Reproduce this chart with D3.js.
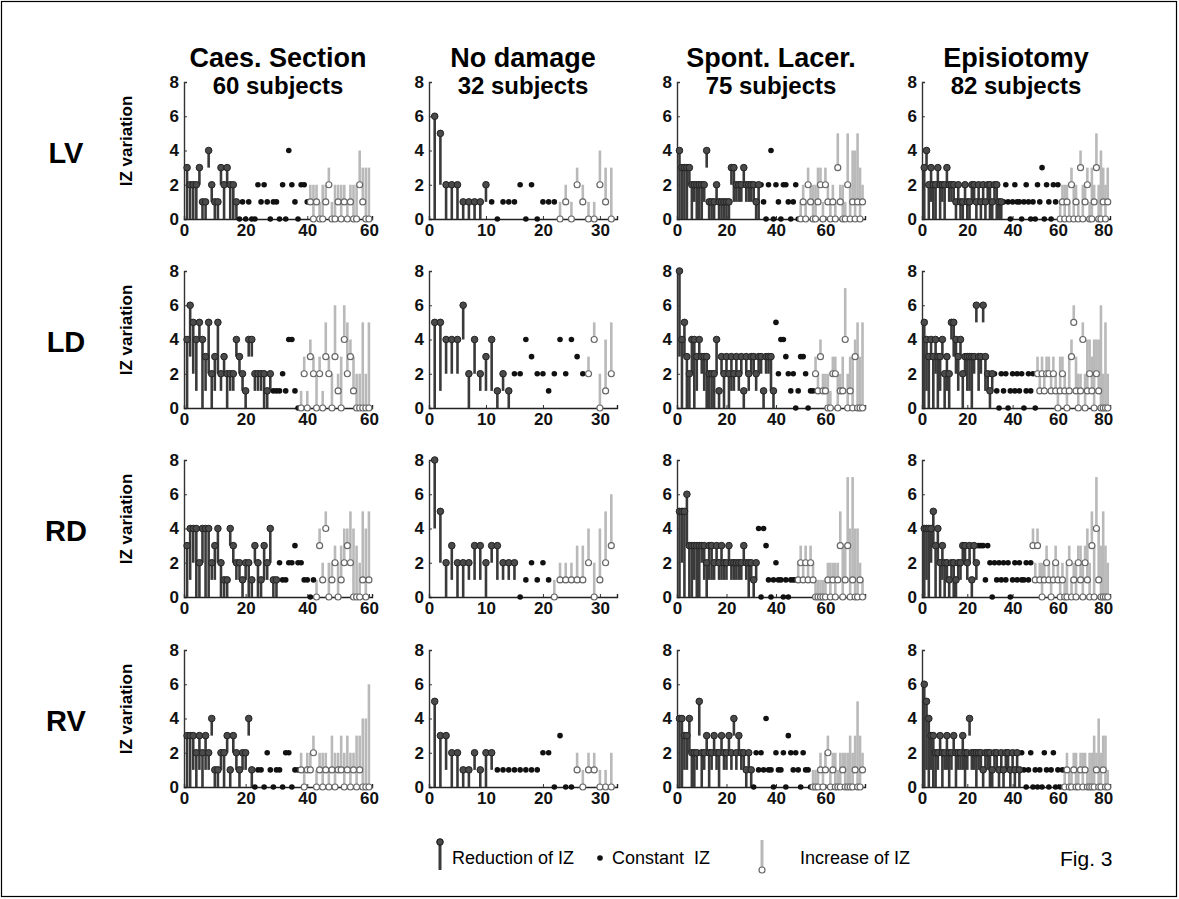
<!DOCTYPE html>
<html>
<head>
<meta charset="utf-8">
<script src="https://cdn.jsdelivr.net/npm/d3@7"></script>
<style>
  body { margin: 0; background: #fff; }
  text { font-family: "Liberation Sans", Arial, sans-serif; white-space: pre; }
</style>
</head>
<body>
<svg id="fig" width="1179" height="899"></svg>
<script>
const groups = ["Caes. Section", "No damage", "Spont. Lacer.", "Episiotomy"];
const subjects = [60, 32, 75, 82];
const regions = ["LV", "LD", "RD", "RV"];
const xTicks = [[0, 20, 40, 60], [0, 10, 20, 30], [0, 20, 40, 60], [0, 20, 40, 60, 80]];
const yTicks = [0, 2, 4, 6, 8];

// each subject: [IZ before, IZ after], sorted reduction / constant / increase
const c = (...v) => v.map((d) => [d, d]);

const lvCaes = [[3,0],[2,0],[2,0],[2,0],[3,2],[1,0],[1,0],[4,3],[2,1],[1,0],[1,0],[3,2],[2,0],[3,2],[2,0],[2,0],[1,0],
  ...c(0,1,0,1,0,0,2,1,2,1,0,1,1,0,2,0,4,2,1,0,2,2,1),
  [1,2],[0,2],[1,2],[0,1],[0,2],[1,2],[2,3],[0,1],[0,2],[1,2],[0,2],[1,2],[0,1],[1,2],[0,2],[0,2],[2,4],[1,3],[0,3],[0,3]];
const lvNoDam = [[6,0],[5,2],[2,0],[2,0],[2,0],[1,0],[1,0],[1,0],[1,0],[2,1],
  ...c(1,0,1,1,1,2,0,2,0,1,1,1),
  [0,1],[1,2],[0,1],[2,3],[1,2],[0,1],[0,1],[2,4],[1,3],[0,3]];
const lvSpont = [[4,0],[3,0],[3,0],[3,0],[3,2],[2,0],[2,1],[2,0],[2,0],[2,0],[2,1],[4,3],[1,0],[1,0],[1,0],[2,1],[1,0],[1,0],[1,0],[1,0],
  [1,0],[3,2],[3,1],[2,1],[2,1],[2,1],[3,2],[2,1],[2,1],[2,1],[2,1],[1,0],[2,0],
  ...c(2,1,0,2,4,0,2,1,0,2,2,1,0,1,2,0),
  [0,1],[1,2],[0,1],[2,3],[1,2],[0,2],[0,2],[1,3],[2,3],[0,1],[2,3],[1,2],[0,1],[1,2],[0,1],[3,5],[1,2],[0,2],[0,1],[2,5],
  [0,2],[1,4],[0,4],[1,5],[0,3],[1,2]];
const lvEpis = [[3,0],[4,3],[2,0],[3,1],[2,0],[2,0],[3,2],[2,0],[2,1],[2,0],[3,2],[2,1],[2,1],[2,1],[1,0],[2,1],[1,0],[1,0],[2,1],[1,0],
  [1,0],[2,1],[2,1],[1,0],[2,1],[1,0],[2,1],[1,0],[2,1],[2,0],[1,0],[2,1],[2,0],[1,0],[1,0],
  ...c(1,2,1,0,1,2,1,1,0,1,2,1,0,1,0,2,1,3,0,2,1,0,2,1,2),
  [0,1],[1,2],[0,2],[1,2],[0,1],[2,3],[0,2],[1,2],[0,1],[3,4],[0,2],[1,2],[2,3],[0,1],[0,3],[1,2],[3,5],[0,2],[0,4],[1,3],
  [0,2],[1,3]];

const ldCaes = [[4,0],[6,3],[5,2],[4,1],[5,4],[4,0],[3,1],[5,2],[2,0],[3,1],[5,2],[2,1],[3,2],[2,0],[2,1],[2,1],[4,3],[3,2],[2,1],[1,0],
  [4,3],[4,3],[2,1],[2,1],[2,1],[2,0],[1,0],[2,1],
  ...c(1,1,1,2,1,4,4,1,0),
  [0,1],[2,3],[0,1],[3,4],[2,3],[0,2],[2,3],[0,1],[3,5],[2,3],[0,2],[3,6],[1,2],[0,3],[4,6],[2,5],[3,4],[1,3],[0,2],[0,2],
  [0,5],[0,2],[0,5]];
const ldNoDam = [[5,0],[5,1],[4,2],[4,2],[4,2],[6,4],[2,0],[4,2],[2,1],[3,1],[4,1],[1,0],[2,1],[1,0],
  ...c(2,2,4,3,2,2,1,2,4,2,4,3,2),
  [2,3],[4,5],[0,2],[1,4],[2,5]];
const ldSpont = [[8,3],[4,0],[5,3],[3,0],[2,0],[4,2],[4,0],[3,1],[4,3],[3,2],[3,1],[3,0],[2,0],[2,0],[2,0],[4,2],[1,0],[3,2],[2,0],[3,2],
  [2,0],[3,1],[2,1],[3,2],[2,1],[3,2],[1,0],[3,2],[2,1],[3,2],[3,2],[2,1],[3,2],[3,2],[1,0],[3,2],[3,2],[3,1],[1,0],
  ...c(5,2,4,4,3,2,1,2,0,1,3,3,2,0,1,1),
  [2,3],[1,2],[3,4],[1,2],[1,2],[0,2],[0,1],[2,3],[2,3],[0,2],[1,2],[1,3],[4,7],[0,2],[1,3],[0,3],[3,4],[0,5],[0,3],[0,5]];
const ldEpis = [[5,0],[4,1],[3,0],[4,3],[3,0],[4,2],[3,0],[3,1],[4,3],[2,0],[3,1],[2,0],[5,4],[5,3],[4,2],[3,1],[4,3],[2,0],[3,2],[3,1],
  [3,1],[3,0],[3,2],[6,5],[3,1],[3,2],[6,5],[3,1],[2,1],[1,0],[2,1],
  ...c(2,1,0,2,1,2,0,1,2,1,2,1,2,0,1,2,1,2,0),
  [2,3],[1,2],[2,3],[1,2],[2,3],[2,3],[1,2],[2,3],[1,2],[0,1],[1,3],[2,3],[1,2],[0,1],[1,3],[3,4],[5,6],[1,3],[0,2],[1,2],
  [4,5],[0,2],[1,4],[2,4],[1,3],[0,4],[2,4],[1,4],[0,6],[0,2],[0,5],[0,2]];

const rdCaes = [[3,0],[4,1],[4,2],[4,0],[2,0],[4,2],[4,0],[4,0],[2,1],[3,1],[4,2],[2,0],[1,0],[1,0],[4,3],[3,2],[2,1],[2,1],[1,0],[2,1],
  [2,0],[1,0],[3,2],[2,0],[1,0],[3,1],[2,1],[4,2],[1,0],[1,0],
  ...c(2,1,1,2,2,3,2,2,1,1,0,1),
  [0,1],[3,4],[1,2],[4,5],[0,2],[1,2],[2,3],[0,2],[1,3],[2,4],[3,4],[2,5],[0,4],[0,3],[0,2],[1,5],[0,4],[1,5]];
const rdNoDam = [[8,4],[5,2],[2,0],[3,1],[2,0],[2,0],[2,1],[3,1],[3,1],[2,0],[3,2],[3,1],[2,1],[2,1],[2,1],
  ...c(0,1,2,1,2,1),
  [0,1],[1,2],[1,2],[1,2],[1,3],[1,3],[2,4],[0,2],[1,4],[2,5],[3,6]];
const rdSpont = [[5,0],[5,2],[5,0],[6,3],[3,0],[3,0],[3,1],[3,0],[3,0],[3,2],[3,1],[2,0],[3,1],[3,1],[2,1],[3,2],[2,1],[3,1],[2,1],[2,1],
  [3,2],[2,1],[2,1],[2,1],[2,1],[2,1],[3,2],[2,1],[2,0],[2,1],[1,0],[2,1],
  ...c(4,0,4,3,1,0,1,2,1,1,0,1,0,1,1,1),
  [1,2],[2,3],[1,2],[2,3],[1,2],[2,3],[1,2],[0,1],[0,1],[0,1],[0,1],[0,1],[1,2],[0,2],[1,2],[0,2],[1,2],[3,5],[0,3],[1,3],
  [3,7],[0,4],[1,7],[0,4],[0,4],[1,2],[0,1]];
const rdEpis = [[4,0],[4,1],[4,0],[4,2],[5,3],[3,0],[4,2],[2,0],[3,1],[2,0],[2,1],[1,0],[2,1],[2,0],[1,0],[2,1],[2,1],[3,2],[3,2],[2,1],
  [3,2],[1,0],[3,2],[2,1],
  ...c(3,3,3,1,3,2,0,2,1,2,1,2,1,2,0,1,2,1,2,1,1,2,1,2),
  [3,4],[1,2],[3,4],[1,2],[0,2],[1,2],[2,3],[1,2],[0,1],[1,2],[2,3],[1,2],[0,1],[1,2],[0,1],[0,2],[2,3],[0,1],[1,2],[0,2],
  [2,3],[1,3],[0,2],[2,3],[1,4],[0,2],[3,5],[0,3],[4,7],[1,4],[0,3],[0,5],[0,3],[0,2]];

const rvCaes = [[3,0],[3,0],[3,1],[2,0],[3,1],[2,0],[3,1],[2,1],[4,3],[1,0],[1,0],[2,1],[2,0],[3,2],[1,0],[3,2],[2,1],[1,0],[2,1],[2,1],
  [4,3],[1,0],
  ...c(0,1,1,0,2,1,0,1,1,0,2,2,0,1,1),
  [1,2],[0,1],[1,2],[1,2],[2,3],[0,1],[1,2],[0,2],[1,2],[0,1],[1,3],[0,2],[1,2],[1,3],[0,2],[1,3],[0,2],[1,2],[0,3],[1,3],
  [0,4],[0,4],[0,6]];
const rvNoDam = [[5,0],[3,0],[3,1],[2,0],[2,0],[1,0],[1,0],[2,1],[1,0],[2,0],[2,1],
  ...c(1,1,1,1,1,1,1,1,2,2,0,3,0,0),
  [1,2],[0,1],[1,2],[1,2],[0,1],[0,1],[0,2]];
const rvSpont = [[4,0],[4,0],[3,1],[3,1],[4,2],[2,0],[2,0],[2,1],[5,3],[2,0],[2,1],[3,2],[2,0],[2,1],[3,2],[2,1],[2,0],[3,2],[2,1],[2,1],
  [3,2],[2,1],[4,3],[2,1],[3,2],[2,1],[2,1],[1,0],[2,1],[1,0],
  ...c(0,2,1,2,1,4,1,1,0,2,1,1,2,0,3,2,1,2,1,0,2,1,1,0),
  [0,1],[0,1],[0,1],[1,2],[0,1],[1,2],[2,3],[0,1],[1,2],[0,2],[0,1],[0,2],[1,2],[0,2],[0,2],[0,3],[0,2],[1,3],[0,5],[0,3],
  [1,2]];
const rvEpis = [[6,0],[5,1],[4,0],[3,1],[3,0],[2,0],[2,1],[3,2],[2,0],[2,1],[3,1],[2,0],[2,1],[3,2],[2,0],[2,1],[2,1],[3,1],[2,0],[2,1],
  [4,3],[2,1],[2,1],[2,0],[2,1],[2,1],[1,0],[2,1],[2,1],[2,0],[1,0],[2,1],[2,1],[1,0],[2,1],[1,0],[2,1],[2,1],[1,0],[2,1],
  [1,0],[2,1],[1,0],
  ...c(2,1,0,1,2,0,1,0,1,0,2,1,0,1,2,0,1,0,1),
  [0,1],[1,2],[0,1],[0,1],[1,2],[0,2],[0,1],[1,2],[0,2],[1,2],[0,1],[0,2],[0,2],[0,3],[1,2],[0,4],[0,2],[1,3],[0,3],[0,1]];

const panels = [
  [lvCaes, lvNoDam, lvSpont, lvEpis],
  [ldCaes, ldNoDam, ldSpont, ldEpis],
  [rdCaes, rdNoDam, rdSpont, rdEpis],
  [rvCaes, rvNoDam, rvSpont, rvEpis],
];

const svg = d3.select("#fig");
const colX = [184, 429, 677, 922];
const rowY = [219, 408, 597, 787];
const W = 188, H = 137;
const dark = "#3a3a3a", light = "#b9b9b9";

svg.append("rect").attr("x", 1.5).attr("y", 1.5).attr("width", 1175).attr("height", 895)
  .attr("fill", "none").attr("stroke", "#000").attr("stroke-width", 1.2);

groups.forEach((name, j) => {
  const cx = colX[j] + W / 2;
  svg.append("text").attr("x", cx).attr("y", 67).attr("text-anchor", "middle")
    .attr("font-size", 27).attr("font-weight", "bold").text(name);
  svg.append("text").attr("x", cx).attr("y", 94).attr("text-anchor", "middle")
    .attr("font-size", 24).attr("font-weight", "bold").text(`${subjects[j]} subjects`);
});

regions.forEach((name, r) => {
  svg.append("text").attr("x", 66).attr("y", rowY[r] - 56).attr("text-anchor", "middle")
    .attr("font-size", 29).attr("font-weight", "bold").text(name);
  svg.append("text").attr("transform", `translate(132,${rowY[r] - 78}) rotate(-90)`)
    .attr("text-anchor", "middle").attr("font-size", 17).attr("font-weight", "bold").text("IZ variation");
});

panels.forEach((row, r) => row.forEach((data, j) => {
  const x = d3.scaleLinear().domain([0, subjects[j] + 1]).range([colX[j], colX[j] + W]);
  const y = d3.scaleLinear().domain([0, 8]).range([rowY[r], rowY[r] - H]);
  const g = svg.append("g");
  const pts = data.map(([a, b], k) => ({ i: k + 1, a, b }));
  const down = pts.filter((d) => d.a > d.b);
  const same = pts.filter((d) => d.a === d.b);
  const up = pts.filter((d) => d.a < d.b);

  g.append("g").attr("transform", `translate(${colX[j]},0)`)
    .call(d3.axisLeft(y).tickValues(yTicks).tickSize(-3).tickPadding(5))
    .call((a) => a.select(".domain").attr("stroke", "#333").attr("stroke-width", 1.4));
  g.append("g").attr("transform", `translate(0,${rowY[r]})`)
    .call(d3.axisBottom(x).tickValues(xTicks[j]).tickSize(-3).tickPadding(5))
    .call((a) => a.select(".domain").attr("stroke", "#222").attr("stroke-width", 1.4));
  g.selectAll(".tick text").attr("font-size", 17).attr("font-weight", "bold").attr("fill", "#111")
    .attr("font-family", "'Liberation Sans', Arial, sans-serif");
  g.selectAll(".tick line").attr("stroke", "#333");

  g.selectAll("line.up").data(up).join("line").attr("class", "up")
    .attr("x1", (d) => x(d.i)).attr("x2", (d) => x(d.i))
    .attr("y1", (d) => y(d.a)).attr("y2", (d) => y(d.b))
    .attr("stroke", light).attr("stroke-width", 2.6);
  g.selectAll("line.down").data(down).join("line").attr("class", "down")
    .attr("x1", (d) => x(d.i)).attr("x2", (d) => x(d.i))
    .attr("y1", (d) => y(d.a)).attr("y2", (d) => y(d.b))
    .attr("stroke", dark).attr("stroke-width", 2.6);
  g.selectAll("circle.same").data(same).join("circle").attr("class", "same")
    .attr("cx", (d) => x(d.i)).attr("cy", (d) => y(d.a)).attr("r", 2.8).attr("fill", "#111");
  g.selectAll("circle.down").data(down).join("circle").attr("class", "down")
    .attr("cx", (d) => x(d.i)).attr("cy", (d) => y(d.a)).attr("r", 3.3)
    .attr("fill", "#4a4a4a").attr("stroke", "#222").attr("stroke-width", 1);
  g.selectAll("circle.up").data(up).join("circle").attr("class", "up")
    .attr("cx", (d) => x(d.i)).attr("cy", (d) => y(d.a)).attr("r", 3)
    .attr("fill", "#fff").attr("stroke", "#666").attr("stroke-width", 1.2);
}));

// legend
const legY = 858;
const lg = svg.append("g");
lg.append("line").attr("x1", 440).attr("x2", 440).attr("y1", legY - 16).attr("y2", legY + 12)
  .attr("stroke", dark).attr("stroke-width", 3);
lg.append("circle").attr("cx", 440).attr("cy", legY - 16).attr("r", 3.3)
  .attr("fill", "#4a4a4a").attr("stroke", "#111");
lg.append("text").attr("x", 452).attr("y", legY + 6).attr("font-size", 18).text("Reduction of IZ");
lg.append("circle").attr("cx", 600).attr("cy", legY).attr("r", 2.8).attr("fill", "#111");
lg.append("text").attr("x", 612).attr("y", legY + 6).attr("font-size", 18).text("Constant  IZ");
lg.append("line").attr("x1", 762).attr("x2", 762).attr("y1", legY - 18).attr("y2", legY + 12)
  .attr("stroke", light).attr("stroke-width", 3);
lg.append("circle").attr("cx", 762).attr("cy", legY + 12).attr("r", 3)
  .attr("fill", "#fff").attr("stroke", "#666").attr("stroke-width", 1.2);
lg.append("text").attr("x", 800).attr("y", legY + 6).attr("font-size", 18).text("Increase of IZ");
svg.append("text").attr("x", 1060).attr("y", legY + 8).attr("font-size", 21).text("Fig. 3");
</script>
</body>
</html>
